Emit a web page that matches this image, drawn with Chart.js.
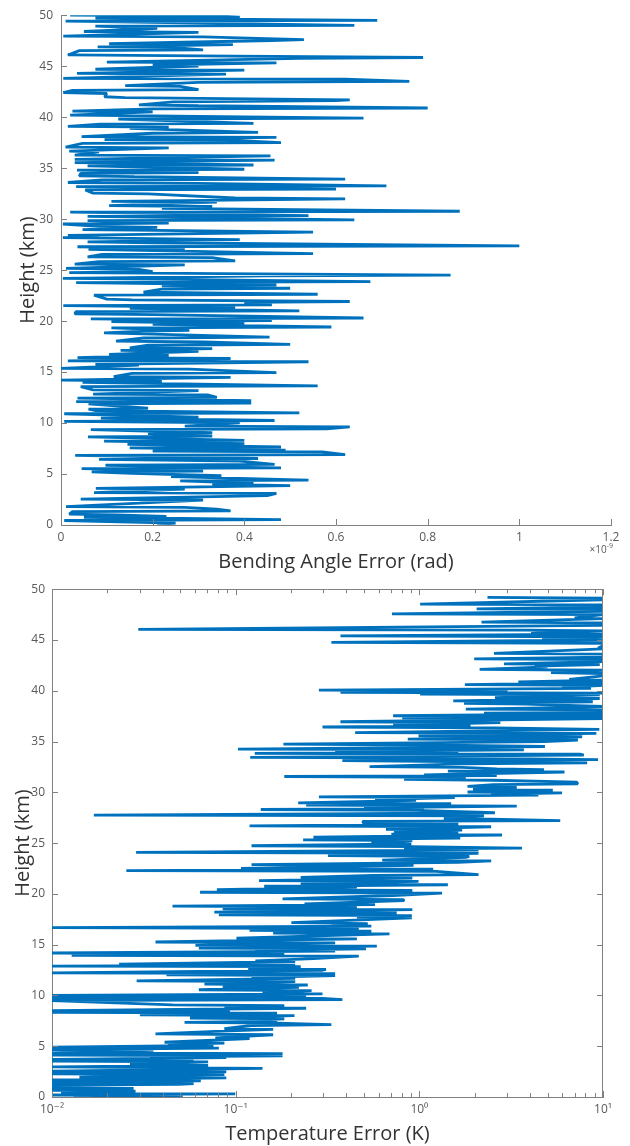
<!DOCTYPE html>
<html lang="en">
<head>
<meta charset="UTF-8" />
<title>Bending angle and temperature error profiles</title>
<script src="https://cdn.jsdelivr.net/npm/chart.js"></script>
<style>
  html, body { margin: 0; padding: 0; background: #fff; }
  body { width: 630px; height: 1146px; position: relative; overflow: hidden; }
  canvas { position: absolute; left: 0; }
  #bendChart { top: 0; }
  #tempChart { top: 575px; }
</style>
</head>
<body>
<canvas id="bendChart" width="630" height="575"></canvas>
<canvas id="tempChart" width="630" height="571"></canvas>
<script>
// ---- data ----
// top panel: bending angle error, in units of 1e-9 rad
var bendHeight = [
  50.00,49.92,49.80,49.72,49.50,49.42,49.00,48.92,48.70,48.40,
  48.32,47.95,47.87,47.60,47.52,47.20,47.12,46.90,46.82,46.60,
  46.52,46.10,46.02,45.85,45.77,45.40,45.32,45.10,45.02,44.70,
  44.62,44.30,44.22,43.80,43.72,43.50,43.42,43.10,43.02,42.70,
  42.62,42.40,42.32,42.00,41.92,41.70,41.62,41.50,41.20,41.12,
  40.90,40.82,40.60,40.52,40.20,40.12,39.90,39.82,39.40,39.32,
  39.10,39.02,38.90,38.50,38.42,38.10,38.02,37.80,37.72,37.50,
  37.42,37.06,36.98,36.67,36.59,36.28,36.20,35.86,35.78,35.54,
  35.46,35.31,35.23,34.89,34.81,34.56,34.48,34.24,34.16,33.92,
  33.84,33.59,33.51,33.27,33.19,32.94,32.86,32.55,32.47,32.07,
  31.99,31.74,31.66,31.32,31.24,31.06,30.77,30.69,30.35,30.27,
  29.93,29.85,29.60,29.52,29.28,29.20,28.96,28.88,28.73,28.40,
  28.32,28.18,27.98,27.76,27.68,27.37,27.29,27.11,27.03,26.62,
  26.54,26.30,26.22,25.91,25.83,25.59,25.51,25.16,25.08,24.84,
  24.76,24.51,24.43,24.19,24.11,23.86,23.78,23.54,23.46,23.22,
  23.14,22.83,22.75,22.63,22.55,22.15,22.07,21.92,21.84,21.59,
  21.51,21.34,21.26,21.01,20.93,20.72,20.64,20.30,20.22,20.04,
  19.96,19.75,19.67,19.42,19.34,19.10,19.02,18.84,18.42,18.34,
  18.03,17.95,17.71,17.63,17.38,17.30,17.12,17.04,16.73,16.65,
  16.41,16.33,16.09,16.01,15.76,15.68,15.37,15.29,14.95,14.87,
  14.56,14.48,14.20,14.12,13.98,13.65,13.57,13.26,13.18,12.84,
  12.76,12.52,12.44,12.19,12.11,11.96,11.88,11.45,11.37,11.22,
  10.99,10.91,10.57,10.49,10.25,10.17,10.02,9.70,9.62,9.43,
  9.35,9.05,8.97,8.72,8.64,8.30,8.22,7.98,7.90,7.65,
  7.57,7.33,7.25,7.17,6.90,6.82,6.52,6.44,6.26,5.94,
  5.86,5.61,5.53,5.29,5.21,5.06,4.83,4.75,4.41,4.33,
  4.08,4.00,3.86,3.60,3.52,3.18,3.10,2.89,2.53,2.45,
  2.14,1.81,1.73,1.55,1.39,1.31,1.07,0.99,0.84,0.76,
  0.52,0.44,0.19,0.03
];
var bendErr = [
  0.02,0.35,0.39,0.075,0.69,0.01,0.64,0.075,0.21,0.05,
  0.30,0.005,0.31,0.53,0.46,0.105,0.375,0.08,0.25,0.31,
  0.04,0.015,0.30,0.79,0.52,0.10,0.47,0.20,0.30,0.075,
  0.40,0.035,0.36,0.005,0.62,0.76,0.30,0.14,0.26,0.30,
  0.025,0.005,0.10,0.095,0.14,0.63,0.60,0.245,0.17,0.30,
  0.80,0.20,0.025,0.20,0.02,0.20,0.66,0.125,0.42,0.085,
  0.015,0.235,0.15,0.43,0.20,0.045,0.47,0.095,0.38,0.48,
  0.047,0.01,0.235,0.018,0.083,0.03,0.457,0.03,0.466,0.03,
  0.18,0.42,0.058,0.40,0.035,0.30,0.043,0.04,0.16,0.62,
  0.09,0.015,0.30,0.71,0.033,0.60,0.053,0.07,0.19,0.38,
  0.62,0.11,0.34,0.105,0.33,0.22,0.87,0.02,0.54,0.058,
  0.64,0.058,0.235,0.004,0.083,0.21,0.047,0.26,0.55,0.015,
  0.083,0.004,0.39,0.058,0.20,1.00,0.036,0.27,0.06,0.55,
  0.09,0.058,0.33,0.38,0.083,0.03,0.27,0.011,0.17,0.20,
  0.018,0.85,0.45,0.004,0.20,0.675,0.033,0.47,0.22,0.50,
  0.22,0.18,0.36,0.56,0.072,0.10,0.155,0.63,0.40,0.46,
  0.005,0.38,0.15,0.52,0.033,0.03,0.20,0.66,0.065,0.46,
  0.11,0.40,0.20,0.59,0.11,0.28,0.18,0.094,0.455,0.18,
  0.12,0.31,0.50,0.19,0.15,0.33,0.13,0.30,0.105,0.235,
  0.036,0.37,0.015,0.54,0.075,0.17,0.0,0.28,0.47,0.155,
  0.115,0.37,0.0,0.22,0.047,0.56,0.043,0.07,0.30,0.07,
  0.32,0.34,0.036,0.415,0.033,0.415,0.06,0.19,0.06,0.076,
  0.52,0.007,0.30,0.087,0.466,0.007,0.39,0.27,0.63,0.58,
  0.065,0.33,0.19,0.33,0.059,0.40,0.094,0.40,0.145,0.48,
  0.15,0.49,0.20,0.57,0.62,0.031,0.43,0.083,0.39,0.466,
  0.097,0.48,0.045,0.31,0.067,0.155,0.35,0.24,0.54,0.26,
  0.42,0.33,0.50,0.076,0.27,0.072,0.47,0.45,0.043,0.31,
  0.17,0.011,0.27,0.34,0.37,0.025,0.018,0.12,0.23,0.05,
  0.48,0.007,0.25,0.21
];

// bottom panel: temperature error, K (log axis)
var tempHeight = [
  49.19,49.11,48.96,48.54,48.46,48.25,48.06,47.98,47.83,47.57,
  47.49,47.18,47.10,46.76,46.68,46.44,46.05,45.97,45.90,45.66,
  45.58,45.40,45.32,45.08,45.00,44.76,44.68,44.43,44.21,44.13,
  43.69,43.61,43.30,43.14,43.06,42.88,42.65,42.57,42.43,42.35,
  42.10,42.02,41.78,41.70,41.46,41.13,41.05,40.87,40.79,40.61,
  40.53,40.32,40.24,40.06,39.98,39.84,39.76,39.68,39.60,39.32,
  39.24,39.00,38.92,38.77,38.69,38.45,38.37,38.19,38.11,37.96,
  37.88,37.80,37.72,37.54,37.46,37.34,37.26,36.95,36.87,36.62,
  36.54,36.43,36.35,36.20,35.88,35.80,35.55,35.47,35.23,35.15,
  35.00,34.74,34.66,34.51,34.25,34.17,34.03,33.95,33.83,33.75,
  33.67,33.44,33.36,33.21,33.13,32.89,32.81,32.53,32.45,32.31,
  32.23,32.08,32.00,31.72,31.64,31.56,31.48,31.27,31.19,31.01,
  30.84,30.76,30.58,30.50,30.29,30.21,30.03,29.95,29.81,29.73,
  29.55,29.47,29.29,29.21,28.96,28.88,28.73,28.65,28.47,28.39,
  28.31,28.23,27.99,27.91,27.76,27.68,27.44,27.36,27.21,27.13,
  26.95,26.87,26.69,26.61,26.36,26.28,26.14,26.06,25.88,25.80,
  25.58,25.50,25.32,25.24,25.00,24.92,24.74,24.66,24.51,24.43,
  24.33,24.08,24.00,23.76,23.68,23.59,23.33,23.25,23.10,22.88,
  22.80,22.52,22.44,22.29,22.21,21.90,21.82,21.63,21.55,21.31,
  21.23,20.98,20.90,20.75,20.67,20.42,20.34,20.16,20.08,19.84,
  19.51,19.43,19.33,19.02,18.94,18.79,18.71,18.53,18.45,18.20,
  18.12,17.94,17.86,17.71,17.63,17.16,17.08,16.90,16.82,16.67,
  16.59,16.41,16.33,16.14,16.06,15.65,15.57,15.26,15.18,14.93,
  14.85,14.67,14.59,14.44,14.36,14.18,14.10,13.95,13.87,13.63,
  13.40,13.32,13.07,12.99,12.89,12.83,12.65,12.57,12.48,12.22,
  12.14,12.03,11.95,11.76,11.68,11.44,11.36,11.11,11.03,10.88,
  10.80,10.56,10.48,10.23,10.15,10.00,9.92,9.80,9.72,9.58,
  9.50,9.08,9.00,8.82,8.74,8.50,8.42,8.33,8.25,8.10,
  8.02,7.78,7.70,7.55,7.47,7.35,7.27,7.12,7.04,6.73,
  6.65,6.47,6.21,6.13,5.82,5.74,5.39,5.31,5.16,5.08,
  4.90,4.82,4.67,4.59,4.35,4.27,4.12,4.04,3.95,3.87,
  3.69,3.61,3.53,3.45,3.20,3.12,2.97,2.81,2.55,2.47,
  2.29,2.21,1.96,1.88,1.67,1.59,1.41,1.33,1.24,1.16,
  0.92,0.84,0.65,0.57,0.39,0.31,0.20,0.12,0.03,0.00
];
var tempErr = [
  2.35,10,10,1.01,10,10,2.05,10,10,0.71,
  10,7.0,10,2.18,10,10,0.0295,3.88,10,4.06,
  10,0.372,10,4.66,10,0.332,10,10,9.4,10,
  2.55,10,10,1.99,10,10.8,2.89,9.6,4.25,4.98,
  2.13,10,5.21,10,10,6.55,10,3.46,10,1.77,
  10,5.98,8.6,0.284,3.02,0.372,10,1.01,9.6,2.58,
  9.6,1.53,8.8,1.75,3.79,10,7.0,1.79,10,7.86,
  10.5,2.25,10,0.72,10,0.807,10,0.372,2.76,0.72,
  1.9,0.297,2.58,9.55,0.447,9.2,0.99,7.7,0.865,7.3,
  4.8,0.182,1.06,4.83,0.103,3.71,0.348,1.63,0.127,7.5,
  7.86,0.12,1.67,9.4,0.381,8.2,1.71,0.536,1.71,2.64,
  4.77,1.43,6.17,1.06,2.64,0.184,1.79,0.826,2.52,7.18,
  7.3,2.52,1.83,3.39,1.96,5.33,1.83,5.98,2.46,4.45,
  0.284,1.56,0.574,0.96,0.219,1.49,0.242,3.39,0.5,1.06,
  0.137,0.96,2.58,0.49,0.0169,2.25,1.36,2.46,5.85,0.49,
  0.5,1.63,0.119,2.46,0.658,1.71,0.727,1.63,0.704,2.82,
  0.265,1.67,0.233,0.916,0.548,0.905,0.122,0.916,3.62,0.826,
  2.1,0.0287,2.1,0.318,1.87,1.79,0.628,2.46,1.63,0.122,
  0.93,0.107,1.19,0.0254,1.24,2.1,0.561,0.226,0.916,0.134,
  0.99,0.226,1.43,0.143,0.457,0.079,0.916,0.064,1.33,0.72,
  0.18,0.819,0.826,0.237,0.574,0.0453,0.457,0.085,0.916,0.0765,
  0.753,0.081,0.91,0.457,0.91,0.201,0.524,0.332,0.548,0.0098,
  0.468,0.119,0.548,0.16,0.688,0.101,0.457,0.0366,0.348,0.0604,
  0.587,0.063,0.512,0.128,0.348,0.0098,0.184,0.0128,0.468,0.265,
  0.128,0.211,0.0232,0.211,0.0098,0.226,0.117,0.31,0.297,0.0098,
  0.348,0.042,0.348,0.122,0.211,0.0289,0.211,0.0676,0.247,0.085,
  0.221,0.063,0.259,0.14,0.297,0.0098,0.242,0.0098,0.297,0.381,
  0.0098,0.0453,0.184,0.0868,0.242,0.0098,0.093,0.0098,0.168,0.0301,
  0.209,0.0564,0.184,0.128,0.168,0.0527,0.168,0.332,0.122,0.0868,
  0.16,0.0775,0.0366,0.16,0.0775,0.119,0.041,0.0868,0.0429,0.0757,
  0.0098,0.081,0.0098,0.0357,0.0098,0.18,0.0098,0.18,0.0342,0.0889,
  0.0098,0.059,0.0098,0.0708,0.0266,0.0708,0.0098,0.14,0.0098,0.0889,
  0.0098,0.0868,0.0141,0.0889,0.0098,0.0646,0.0098,0.059,0.0492,0.0098,
  0.0098,0.0278,0.0098,0.0285,0.0112,0.0995,0.0098,0.0492,0.0131,0.0515
];

// axis ticks
var heightTicks = [0, 5, 10, 15, 20, 25, 30, 35, 40, 45, 50];
var bendTicks = [0, 0.2, 0.4, 0.6, 0.8, 1, 1.2];
var bendTickLabels = ["0", "0.2", "0.4", "0.6", "0.8", "1", "1.2"];
var tempTicks = [0.01, 0.1, 1, 10];
var tempTickLabels = ["10\u207b\u00b2", "10\u207b\u00b9", "10\u2070", "10\u00b9"];

var LINE = "#0072BD";
var AXIS = "#808080";
var TICK_TEXT = "#595959";
var TITLE_TEXT = "#333333";
var FONT = '"Open Sans", "DejaVu Sans", sans-serif';

// matlab-style ticks pointing into the plot, optional box and exponent
var inwardTicks = {
  id: "inwardTicks",
  afterDatasetsDraw: function (chart, args, opts) {
    var ctx = chart.ctx;
    var a = chart.chartArea;
    var xs = chart.scales.x;
    var ys = chart.scales.y;
    ctx.save();
    ctx.strokeStyle = AXIS;
    ctx.lineWidth = 1;
    ctx.beginPath();
    function xTick(v, len) {
      var px = Math.round(xs.getPixelForValue(v)) + 0.5;
      ctx.moveTo(px, a.bottom);
      ctx.lineTo(px, a.bottom - len);
      if (opts.box) {
        ctx.moveTo(px, a.top);
        ctx.lineTo(px, a.top + len);
      }
    }
    xs.ticks.forEach(function (t) { xTick(t.value, 6); });
    if (opts.logMinor) {
      for (var k = -2; k < 1; k++) {
        for (var m = 2; m < 10; m++) xTick(m * Math.pow(10, k), 4);
      }
    }
    ys.ticks.forEach(function (t) {
      var py = Math.round(ys.getPixelForValue(t.value)) + 0.5;
      ctx.moveTo(a.left, py);
      ctx.lineTo(a.left + 6, py);
      if (opts.box) {
        ctx.moveTo(a.right, py);
        ctx.lineTo(a.right - 6, py);
      }
    });
    if (opts.box) {
      ctx.moveTo(a.left, Math.round(a.top) + 0.5);
      ctx.lineTo(a.right, Math.round(a.top) + 0.5);
      ctx.moveTo(Math.round(a.right) - 0.5, a.top);
      ctx.lineTo(Math.round(a.right) - 0.5, a.bottom);
    }
    ctx.stroke();
    if (opts.exponent) {
      ctx.fillStyle = TICK_TEXT;
      ctx.textAlign = "left";
      ctx.textBaseline = "alphabetic";
      ctx.font = "10px " + FONT;
      var base = "\u00d710";
      var wb = ctx.measureText(base).width;
      ctx.font = "7px " + FONT;
      var we = ctx.measureText(opts.exponent).width;
      var x0 = a.right + 2 - wb - we;
      var y0 = a.bottom + 28;
      ctx.font = "10px " + FONT;
      ctx.fillText(base, x0, y0);
      ctx.font = "7px " + FONT;
      ctx.fillText(opts.exponent, x0 + wb, y0 - 5);
    }
    ctx.restore();
  }
};

function profilePoints(errs, heights) {
  return errs.map(function (v, i) { return { x: v, y: heights[i] }; });
}

function heightAxis(width, titlePad, labelPad) {
  return {
    type: "linear",
    min: 0,
    max: 50,
    afterBuildTicks: function (s) {
      s.ticks = heightTicks.map(function (v) { return { value: v }; });
    },
    afterFit: function (s) { s.width = width; },
    grid: { display: false, drawTicks: false },
    border: { display: true, color: AXIS, width: 1 },
    ticks: {
      color: TICK_TEXT,
      font: { family: FONT, size: 12 },
      padding: labelPad,
      autoSkip: false
    },
    title: {
      display: true,
      text: "Height (km)",
      color: TITLE_TEXT,
      font: { family: FONT, size: 20 },
      padding: { top: titlePad, bottom: 0 }
    }
  };
}

// bending angle error chart
new Chart(document.getElementById("bendChart"), {
  type: "line",
  data: {
    datasets: [{
      data: profilePoints(bendErr, bendHeight),
      borderColor: LINE,
      borderWidth: 2.8,
      borderJoinStyle: "bevel",
      pointRadius: 0,
      tension: 0
    }]
  },
  options: {
    responsive: false,
    animation: false,
    devicePixelRatio: 1,
    layout: { padding: { top: 11, right: 19, left: 0, bottom: 0 } },
    plugins: {
      legend: { display: false },
      tooltip: { enabled: false },
      inwardTicks: { box: false, exponent: "-9" }
    },
    scales: {
      x: {
        type: "linear",
        min: 0,
        max: 1.2,
        afterBuildTicks: function (s) {
          s.ticks = bendTicks.map(function (v) { return { value: v }; });
        },
        afterFit: function (s) { s.height = 50; },
        grid: { display: false, drawTicks: false },
        border: { display: true, color: AXIS, width: 1 },
        ticks: {
          color: TICK_TEXT,
          font: { family: FONT, size: 12 },
          padding: 5,
          maxRotation: 0,
          autoSkip: false,
          callback: function (v, i) { return bendTickLabels[i]; }
        },
        title: {
          display: true,
          text: "Bending Angle Error (rad)",
          color: TITLE_TEXT,
          font: { family: FONT, size: 20 },
          padding: { top: 0, bottom: 1 }
        }
      },
      y: heightAxis(61, 16, 8)
    }
  },
  plugins: [inwardTicks]
});

// temperature error chart
new Chart(document.getElementById("tempChart"), {
  type: "line",
  data: {
    datasets: [{
      data: profilePoints(tempErr, tempHeight),
      borderColor: LINE,
      borderWidth: 2.8,
      borderJoinStyle: "bevel",
      pointRadius: 0,
      tension: 0
    }]
  },
  options: {
    responsive: false,
    animation: false,
    devicePixelRatio: 1,
    layout: { padding: { top: 12, right: 27, left: 0, bottom: 0 } },
    plugins: {
      legend: { display: false },
      tooltip: { enabled: false },
      inwardTicks: { box: true, logMinor: true }
    },
    scales: {
      x: {
        type: "logarithmic",
        min: 0.01,
        max: 10,
        afterBuildTicks: function (s) {
          s.ticks = tempTicks.map(function (v) { return { value: v }; });
        },
        afterFit: function (s) { s.height = 49; },
        grid: { display: false, drawTicks: false },
        border: { display: true, color: AXIS, width: 1 },
        ticks: {
          color: TICK_TEXT,
          font: { family: FONT, size: 12 },
          padding: 5,
          maxRotation: 0,
          autoSkip: false,
          callback: function (v, i) { return tempTickLabels[i]; }
        },
        title: {
          display: true,
          text: "Temperature Error (K)",
          color: TITLE_TEXT,
          font: { family: FONT, size: 20 },
          padding: { top: 0, bottom: 0 }
        }
      },
      y: heightAxis(52, 11, 7)
    }
  },
  plugins: [inwardTicks]
});
</script>
</body>
</html>
